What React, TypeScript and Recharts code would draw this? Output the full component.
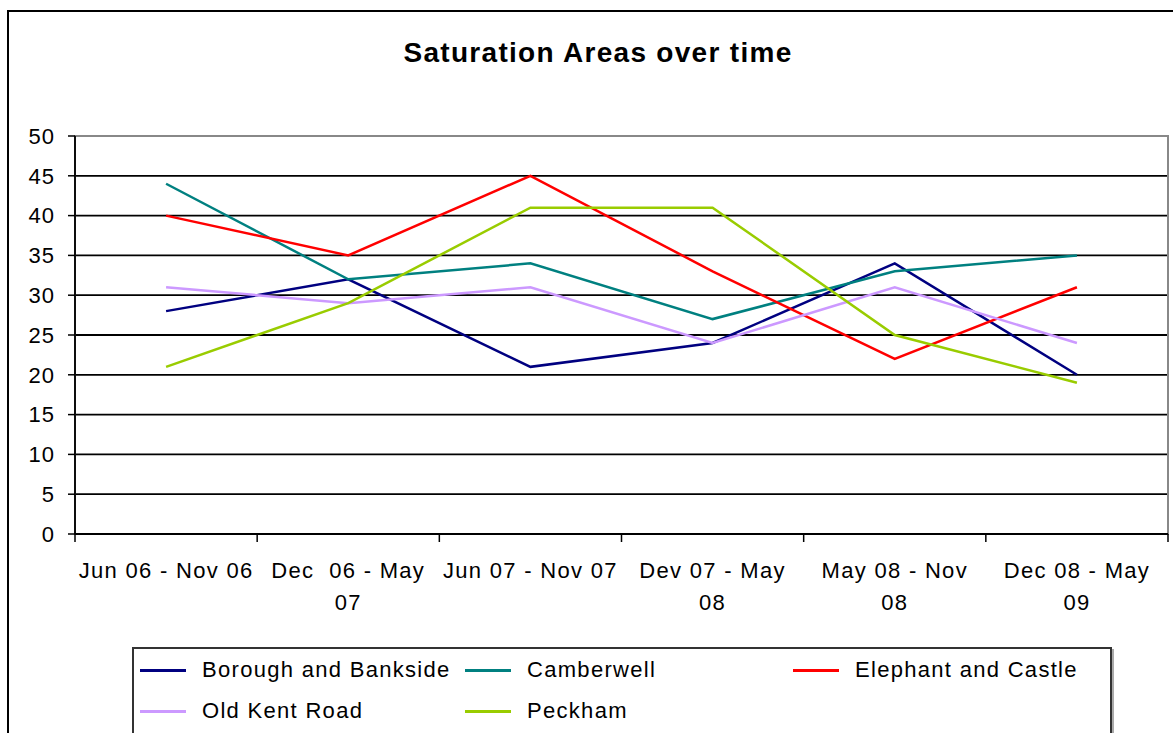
import React from 'react';
import { LineChart, Line, XAxis, YAxis, CartesianGrid, ReferenceArea } from 'recharts';

const periods = [
  'Jun 06 - Nov 06',
  'Dec 06 - May 07',
  'Jun 07 - Nov 07',
  'Dev 07 - May 08',
  'May 08 - Nov 08',
  'Dec 08 - May 09',
];

// how each period label breaks onto two lines in the original
const periodLines = [
  ['Jun 06 - Nov 06'],
  ['Dec  06 - May', '07'],
  ['Jun 07 - Nov 07'],
  ['Dev 07 - May', '08'],
  ['May 08 - Nov', '08'],
  ['Dec 08 - May', '09'],
];

const boroughBankside = [28, 32, 21, 24, 34, 20];
const camberwell = [44, 32, 34, 27, 33, 35];
const elephantCastle = [40, 35, 45, 33, 22, 31];
const oldKentRoad = [31, 29, 31, 24, 31, 24];
const peckham = [21, 29, 41, 41, 25, 19];

const yTicks = [0, 5, 10, 15, 20, 25, 30, 35, 40, 45, 50];

const series = [
  { key: 'borough', name: 'Borough and Bankside', color: '#000080', values: boroughBankside },
  { key: 'camberwell', name: 'Camberwell', color: '#008080', values: camberwell },
  { key: 'elephant', name: 'Elephant and Castle', color: '#FF0000', values: elephantCastle },
  { key: 'oldkent', name: 'Old Kent Road', color: '#CC99FF', values: oldKentRoad },
  { key: 'peckham', name: 'Peckham', color: '#99CC00', values: peckham },
];

const data = periods.map((p, i) => {
  const row: Record<string, string | number> = { period: p };
  series.forEach(s => { row[s.key] = s.values[i]; });
  return row;
});

const FONT = '"Liberation Sans", Arial, sans-serif';

function PeriodTick(props: any) {
  const { x, y, payload, index } = props;
  const half = payload && payload.offset ? payload.offset : 91;
  const lines = periodLines[index] || [String(payload.value)];
  return (
    <g>
      <line x1={x - half} x2={x - half} y1={y} y2={y + 8} stroke="#000" strokeWidth={1.5} />
      {index === periods.length - 1 && (
        <line x1={x + half} x2={x + half} y1={y} y2={y + 8} stroke="#000" strokeWidth={1.5} />
      )}
      {lines.map((l, i) => (
        <text
          key={i}
          x={x}
          y={y + 44 + i * 32}
          textAnchor="middle"
          fill="#000"
          fontSize={22}
          fontFamily={FONT}
          style={{ letterSpacing: 1.3, whiteSpace: 'pre' }}
        >
          {l}
        </text>
      ))}
    </g>
  );
}

export default function App() {
  return (
    <div style={{ position: 'fixed', left: 0, top: 0, width: 1173, height: 733, overflow: 'hidden', background: '#fff', fontFamily: FONT }}>
      <div style={{ position: 'absolute', left: 7, top: 10, width: 1200, height: 760, border: '2px solid #000' }} />
      <div style={{ position: 'absolute', left: 0, top: 37, width: 1196, textAlign: 'center', fontSize: 28, fontWeight: 'bold', letterSpacing: 1.3, color: '#000' }}>
        Saturation Areas over time
      </div>
      <div style={{ position: 'absolute', left: 0, top: 0 }}>
        <LineChart width={1173} height={733} data={data} margin={{ top: 136, right: 5, left: 0, bottom: 0 }}>
          <CartesianGrid vertical={false} stroke="#000" strokeWidth={1.8} />
          <ReferenceArea y1={0} y2={50} fill="none" stroke="#888" strokeWidth={2} ifOverflow="visible" />
          <XAxis
            dataKey="period"
            scale="band"
            height={199}
            tickLine={false}
            tickSize={0}
            tickMargin={0}
            interval={0}
            tick={<PeriodTick />}
            axisLine={{ stroke: '#000', strokeWidth: 1.8 }}
          />
          <YAxis
            domain={[0, 50]}
            ticks={yTicks}
            width={75}
            tickSize={7}
            tickMargin={13}
            tickLine={{ stroke: '#000', strokeWidth: 1.5 }}
            axisLine={{ stroke: '#000', strokeWidth: 1.8 }}
            tick={{ fill: '#000', fontSize: 22, fontFamily: FONT, style: { letterSpacing: 1 } }}
          />
          {series.map(s => (
            <Line
              key={s.key}
              type="linear"
              dataKey={s.key}
              name={s.name}
              stroke={s.color}
              strokeWidth={2.5}
              dot={false}
              activeDot={false}
              isAnimationActive={false}
            />
          ))}
        </LineChart>
      </div>
      <div style={{ position: 'absolute', left: 132, top: 647, width: 976, height: 120, border: '2px solid #333', boxShadow: '2px 2px 0 #aaa', background: '#fff' }}>
        {series.map((s, i) => {
          const col = i % 3;
          const row = Math.floor(i / 3);
          const lefts = [6, 331, 659];
          return (
            <div key={s.key} style={{ position: 'absolute', left: lefts[col], top: 6 + row * 41, height: 30, display: 'flex', alignItems: 'center', whiteSpace: 'nowrap' }}>
              <span style={{ display: 'inline-block', width: 46, height: 3, background: s.color, marginRight: 16 }} />
              <span style={{ fontSize: 22, letterSpacing: 1.3, color: '#000' }}>{s.name}</span>
            </div>
          );
        })}
      </div>
    </div>
  );
}
